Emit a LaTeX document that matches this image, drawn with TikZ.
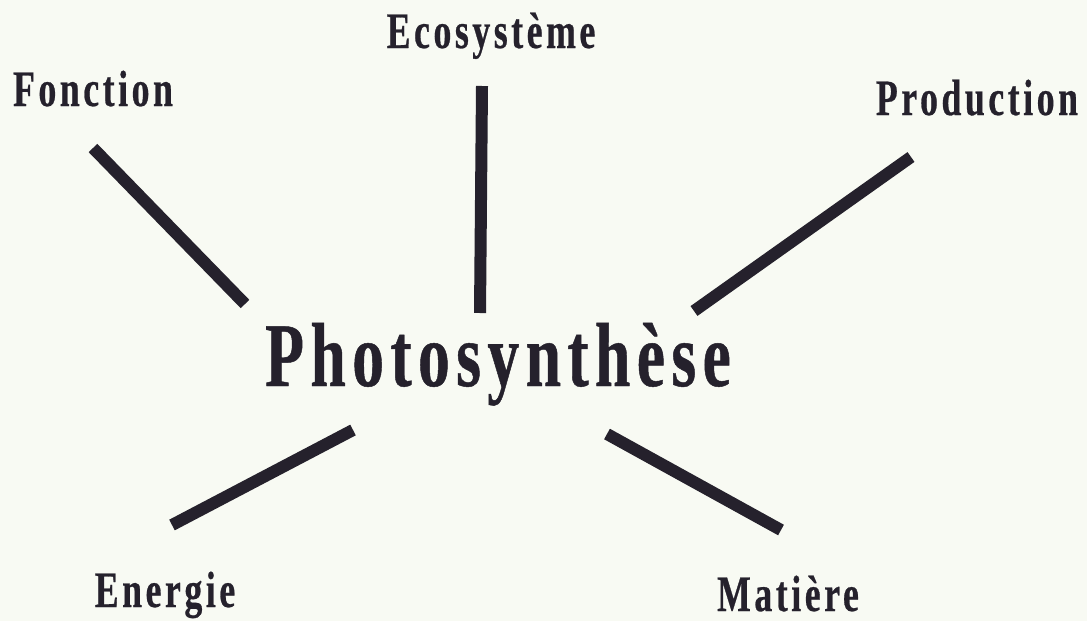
\documentclass[tikz,border=0pt]{standalone}
\usepackage{fontspec}
\newfontfamily\condfont[FakeStretch=0.70,LetterSpace=7,FakeBold=0.5]{Liberation Serif Bold}
\definecolor{ink}{HTML}{25212C}
\definecolor{paper}{HTML}{F8FAF3}
\tikzset{
  lbl/.style={anchor=base, inner sep=0pt, text=ink, font=\condfont\fontsize{51}{51}\selectfont},
  title/.style={anchor=base, inner sep=0pt, text=ink, font=\condfont\fontsize{91}{91}\selectfont},
  spoke/.style={draw=ink, line width=12pt, line cap=butt}
}
\begin{document}
\begin{tikzpicture}[x=1pt,y=-1pt]
\fill[paper] (0,0) rectangle (1087,621);
\useasboundingbox (0,0) rectangle (1087,621);
\node[title] (center) at (498,386) {Photosynthèse};
\node[lbl] (fonction) at (93,106) {Fonction};
\node[lbl] (eco) at (491,48) {Ecosystème};
\node[lbl] (prod) at (977,115) {Production};
\node[lbl] (energie) at (165,607) {Energie};
\node[lbl] (matiere) at (788,611) {Matière};
\coordinate (f1) at (93,148);
\coordinate (f2) at (245,304);
\coordinate (e1) at (482,86);
\coordinate (e2) at (480,313);
\coordinate (p1) at (911,157);
\coordinate (p2) at (694,311);
\coordinate (n1) at (353,430);
\coordinate (n2) at (172,525);
\coordinate (m1) at (607,434);
\coordinate (m2) at (781,530);
\draw[spoke] (f1) -- (f2);
\draw[spoke] (e1) -- (e2);
\draw[spoke] (p1) -- (p2);
\draw[spoke] (n1) -- (n2);
\draw[spoke] (m1) -- (m2);
\end{tikzpicture}
\end{document}
